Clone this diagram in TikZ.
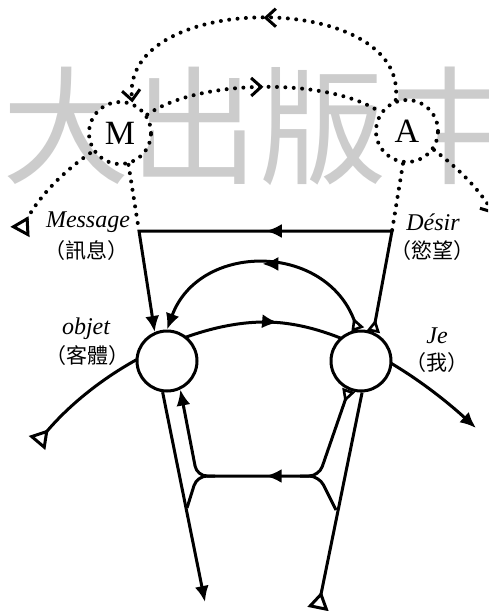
\documentclass[tikz,border=0pt]{standalone}
\usepackage{fontspec}
\setmainfont{Liberation Serif}
\newfontfamily\cjkfont{Noto Sans CJK TC}
\usetikzlibrary{arrows.meta,decorations.markings}

\begin{document}
\begin{tikzpicture}[
  x=0.5pt, y=-0.5pt,
  line/.style={line width=1.5pt},
  dotline/.style={line width=2pt, line cap=round, dash pattern=on 0pt off 4.2pt},
  circ/.style={draw, circle, fill=white, line width=1.5pt, minimum size=30pt, inner sep=0pt},
  dotcirc/.style={circ, dotline, minimum size=31pt, font=\fontsize{17}{17}\selectfont},
  lab/.style={font=\fontsize{12}{12}\selectfont\itshape, inner sep=0pt},
  zh/.style={font=\fontsize{10.5}{10.5}\selectfont\cjkfont, inner sep=0pt},
  tailtri/.tip={Triangle[open, reversed, length=9pt, width=10.5pt, line width=1.5pt]},
  stubtri/.tip={Triangle[open, reversed, length=6.5pt, width=6.5pt, line width=1.3pt]},
  headtip/.tip={Latex[length=8pt, width=7pt]},
  barbtip/.tip={Straight Barb[length=5pt, width=9pt, line width=1.5pt]},
  midarr/.style={postaction={decorate, decoration={markings,
      mark=at position #1 with {\arrow{headtip}}}}},
  midbarb/.style={postaction={decorate, decoration={markings,
      mark=at position #1 with {\arrow{barbtip}}}}}
]
\useasboundingbox (0,0) rectangle (488,611);
\clip (0,0) rectangle (488,611);

% watermark
\node[anchor=west, inner sep=0pt, text=black!20, font=\fontsize{64}{64}\selectfont\cjkfont] (wm) at (2,126) {大出版中};

% end points and corners
\coordinate (tailObj) at (37,443);
\coordinate (headJe) at (476,428);
\coordinate (tailM) at (20,232);
\coordinate (edgeR) at (494,214);
\coordinate (msgC) at (139,231);
\coordinate (desC) at (392,231);
\coordinate (jL) at (197,476);
\coordinate (jR) at (319,476);
\coordinate (hL) at (215,476);
\coordinate (hR) at (300,476);
\coordinate (mergeL) at (187,508);
\coordinate (mergeR) at (336,510);
\coordinate (botL) at (205,602);
\coordinate (botR) at (318,609);

% long curve, under the circles
\draw[line, {tailtri}-{headtip}, midarr=0.55] (tailObj) .. controls (98,371) and (190,322) .. (265,322)
  .. controls (340,322) and (421,378) .. (headJe);

\node[dotcirc] (M) at (120,133) {M};
\node[dotcirc] (A) at (407,131) {A};
\node[circ] (obj) at (167,361) {};
\node[circ] (Je) at (361,361) {};

\node[lab] (msg) at (88,222) {Message};
\node[zh] (msgzh) at (87,251) {（訊息）};
\node[lab] (des) at (433,222) {Désir};
\node[zh] (deszh) at (432,251) {（慾望）};
\node[lab] (objl) at (86,329) {objet};
\node[zh] (objzh) at (88,356) {（客體）};
\node[lab] (jel) at (437,336) {Je};
\node[zh] (jezh) at (437,363) {（我）};

% dotted upper part
\draw[dotline, -{barbtip}, midbarb=0.5] (A.110) .. controls (410,-10) and (120,-10) .. (M.68);
\draw[dotline, midbarb=0.5] (M.34) .. controls (200,78) and (330,78) .. (A.145);
\draw[dotline, {tailtri}-] (tailM) .. controls (40,195) and (65,170) .. (M.214);
\draw[dotline] (M.285) -- (msgC);
\draw[dotline] (A.263) -- (desC);
\draw[dotline, -{barbtip}] (A.325) .. controls (460,170) and (478,188) .. (edgeR);

% solid loops
\draw[line, {stubtri}-{headtip}, midarr=0.5] (Je.67) -- (desC) -- (msgC) -- (obj.113);
\draw[line, {stubtri}-{headtip}, midarr=0.5] (Je.96) .. controls (325,242) and (199,242) .. (obj.90);

% lower part
\draw[line, -{headtip}] (obj.262) -- (botL);
\draw[line, {stubtri}-{headtip}, midarr=0.48, rounded corners=5pt] (Je.247) -- (jR) -- (jL) -- (obj.295);
\draw[line, rounded corners=5pt] (hR) -- (jR) -- (mergeR);
\draw[line, rounded corners=5pt] (hL) -- (jL) -- (mergeL);
\draw[line, {tailtri}-] (botR) -- (Je.272);
\end{tikzpicture}
\end{document}
